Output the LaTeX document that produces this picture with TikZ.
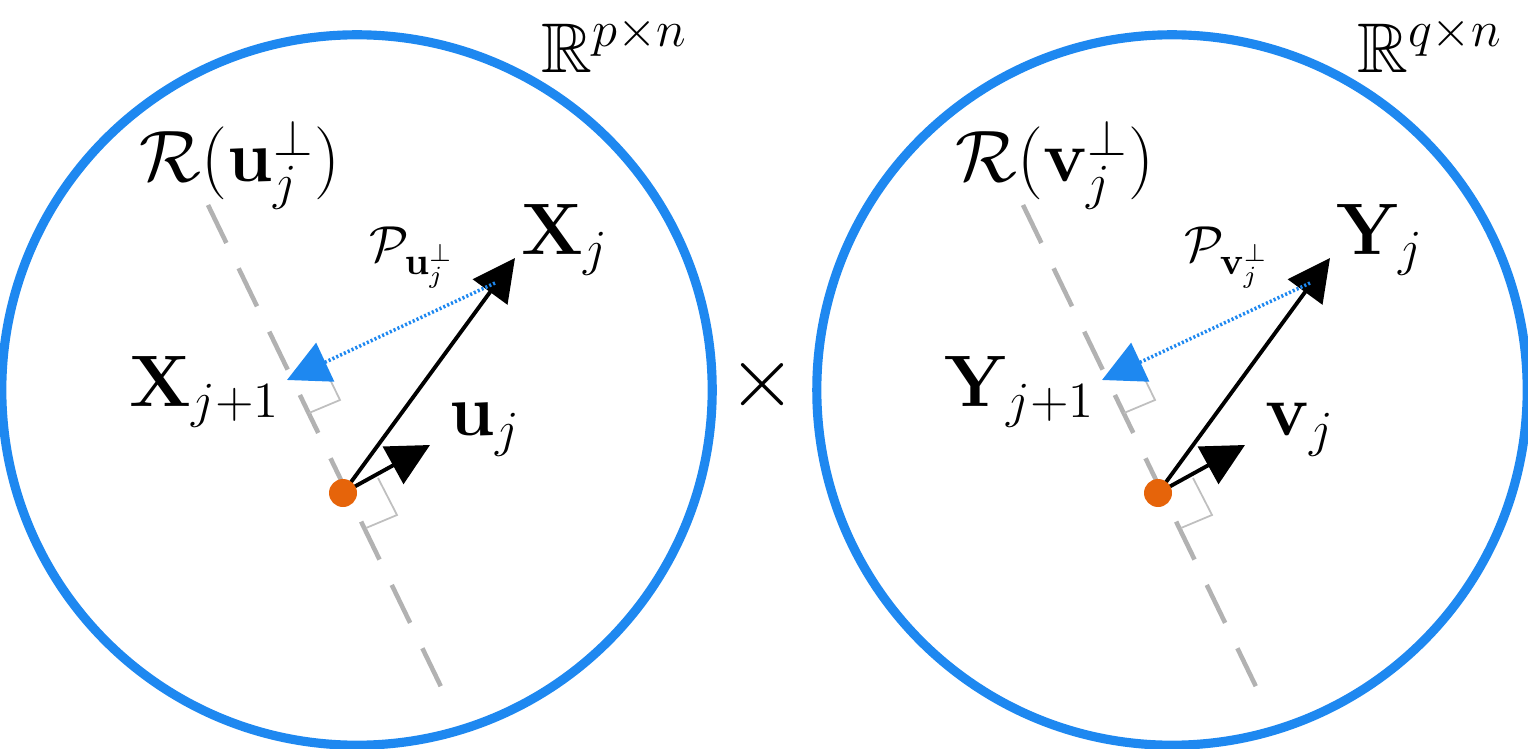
\documentclass[tikz,border=0pt]{standalone}
\usepackage{amsmath,amssymb,bm}
\usetikzlibrary{arrows.meta}
\definecolor{cblue}{RGB}{30,136,240}
\definecolor{corange}{RGB}{230,100,10}
\tikzset{
  ring/.style={draw=cblue,line width=2.6pt},
  axis/.style={draw=gray!60,line width=1.3pt,dash pattern=on 12pt off 8pt},
  vec/.style={-{Triangle[length=12pt,width=12pt]},line width=1.1pt},
  proj/.style={-{Triangle[length=12pt,width=12pt]},draw=cblue,line width=1pt,dash pattern=on 0.6pt off 0.6pt},
  rmark/.style={draw=gray!50,line width=0.5pt},
  lbl/.style={font=\fontsize{20}{23}\selectfont,inner sep=1pt},
  slbl/.style={font=\fontsize{15}{18}\selectfont,inner sep=1pt}
}
\begin{document}
\begin{tikzpicture}[x=0.01cm,y=-0.01cm]
\useasboundingbox (0,0) rectangle (1528,749);
\foreach \dx/\M/\v/\dim in {0/X/u/p,815/Y/v/q}{
\begin{scope}[xshift=\dx*0.01cm]
\node[circle,ring,minimum size=7.1cm] (c) at (357,390) {};
\coordinate (a1) at (208,205); \coordinate (a2) at (445,695);
\draw[axis] (a1) -- (a2);
\coordinate (o) at (343,493);
\coordinate (xt) at (515,258);
\coordinate (ut) at (430,445);
\draw[rmark] (322,363) -- (340,400) -- (309,413);
\draw[rmark] (378,478) -- (397,515) -- (366,528);
\draw[vec] (o) -- (xt);
\draw[vec] (o) -- (ut);
\draw[proj] (495,283) -- (287,380);
\fill[corange] (o) circle (14);
\node[lbl] (R) at (240,165) {$\mathcal{R}(\mathbf{\v}_j^{\perp})$};
\node[lbl] (Xj) at (565,240) {$\mathbf{\M}_j$};
\node[slbl] (P) at (412,258) {$\mathcal{P}_{\mathbf{\v}_j^{\perp}}$};
\node[lbl] (X1) at (205,392) {$\mathbf{\M}_{j+1}$};
\node[lbl] (uj) at (485,430) {$\mathbf{\v}_j$};
\node[lbl] (sp) at (615,45) {$\mathbb{R}^{\dim\times n}$};
\end{scope}}
\node[font=\fontsize{30}{32}\selectfont] (times) at (763,385) {$\times$};
\end{tikzpicture}
\end{document}
